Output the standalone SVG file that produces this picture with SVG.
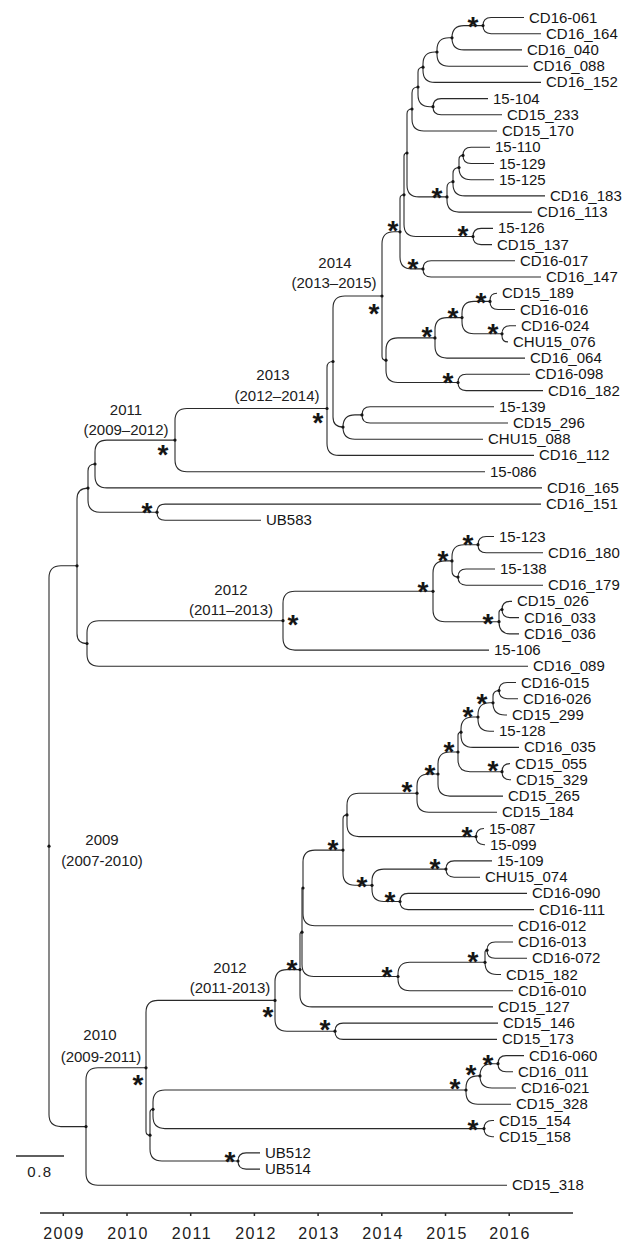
<svg xmlns="http://www.w3.org/2000/svg" width="623" height="1244" viewBox="0 0 623 1244">
<style>
.br{fill:none;stroke:#2a2a2a;stroke-width:1.1}
.lf{font-family:"Liberation Sans",Arial,sans-serif;font-size:15px;fill:#151515}
.yr{font-family:"Liberation Sans",Arial,sans-serif;font-size:15px;fill:#202020;text-anchor:middle}
.st{font-family:"Liberation Sans",Arial,sans-serif;font-size:28px;font-weight:bold;fill:#151515;text-anchor:middle}
.dt{fill:#151515}
.ax{font-family:"Liberation Sans",Arial,sans-serif;font-size:16px;fill:#202020;text-anchor:middle;letter-spacing:1.5px}
</style>
<rect width="623" height="1244" fill="#ffffff"/>
<g id="connectors" class="br">
<path d="M483,25.6Q483,17.5 491.1,17.5H524M483,25.6Q483,33.7 491.1,33.7H541"/>
<path d="M452,37.8V37.6Q452,25.6 464,25.6H483M452,37.8V37.9Q452,49.9 464,49.9H522"/>
<path d="M437,52V49.8Q437,37.8 449,37.8H452M437,52V54.2Q437,66.2 449,66.2H528"/>
<path d="M423,67.2V64Q423,52 435,52H437M423,67.2V70.4Q423,82.4 435,82.4H541"/>
<path d="M433,106.7Q433,98.6 441.1,98.6H488M433,106.7Q433,114.8 441.1,114.8H502"/>
<path d="M418,87V72.2Q418,67.2 423,67.2M418,87V94.7Q418,106.7 430,106.7H433"/>
<path d="M412,109V93Q412,87 418,87M412,109V119Q412,131 424,131H497"/>
<path d="M463,155.4Q463,147.3 471.1,147.3H490M463,155.4Q463,163.5 471.1,163.5H494"/>
<path d="M459,167.6V159.4Q459,155.4 463,155.4M459,167.6V167.7Q459,179.7 471,179.7H494"/>
<path d="M453,181.7V173.6Q453,167.6 459,167.6M453,181.7V183.9Q453,195.9 465,195.9H545"/>
<path d="M447,196.9V187.7Q447,181.7 453,181.7M447,196.9V200.1Q447,212.1 459,212.1H532"/>
<path d="M407,153V114Q407,109 412,109M407,153V184.9Q407,196.9 419,196.9H447"/>
<path d="M473,236.5Q473,228.4 481.1,228.4H493M473,236.5Q473,244.6 481.1,244.6H492"/>
<path d="M404,194.8V156Q404,153 407,153M404,194.8V224.5Q404,236.5 416,236.5H473"/>
<path d="M423,268.9Q423,260.8 431.1,260.8H515M423,268.9Q423,277 431.1,277H541"/>
<path d="M400,231.8V198.8Q400,194.8 404,194.8M400,231.8V256.9Q400,268.9 412,268.9H423"/>
<path d="M490,301.4V300.2Q490,293.2 497,293.2M490,301.4Q490,309.5 498.1,309.5H515"/>
<path d="M502,333.8Q502,325.7 510.1,325.7H516M502,333.8V335.9Q502,341.9 508,341.9"/>
<path d="M462,317.6V313.4Q462,301.4 474,301.4H490M462,317.6V321.8Q462,333.8 474,333.8H502"/>
<path d="M435,337.9V329.6Q435,317.6 447,317.6H462M435,337.9V346.1Q435,358.1 447,358.1H525"/>
<path d="M458,382.5Q458,374.3 466.2,374.3H530M458,382.5Q458,390.6 466.1,390.6H543"/>
<path d="M386,360.2V349.9Q386,337.9 398,337.9H435M386,360.2V370.5Q386,382.5 398,382.5H458"/>
<path d="M382,296V243.8Q382,231.8 394,231.8H400M382,296V356.2Q382,360.2 386,360.2"/>
<path d="M362,414.9Q362,406.8 370.1,406.8H494M362,414.9Q362,423 370.1,423H508"/>
<path d="M343,427.1V426.9Q343,414.9 355,414.9H362M343,427.1V427.2Q343,439.2 355,439.2H483"/>
<path d="M333,361.5V308Q333,296 345,296H382M333,361.5V417.1Q333,427.1 343,427.1"/>
<path d="M327,408.5V367.5Q327,361.5 333,361.5M327,408.5V443.4Q327,455.4 339,455.4H534"/>
<path d="M175,440.1V420.5Q175,408.5 187,408.5H327M175,440.1V459.7Q175,471.7 187,471.7H485"/>
<path d="M95,464V452.1Q95,440.1 107,440.1H175M95,464V475.9Q95,487.9 107,487.9H542"/>
<path d="M157,512.2Q157,504.1 165.1,504.1H541M157,512.2Q157,520.3 165.1,520.3H261"/>
<path d="M88,488.1V471Q88,464 95,464M88,488.1V500.2Q88,512.2 100,512.2H157"/>
<path d="M478,544.7Q478,536.5 486.2,536.5H494M478,544.7Q478,552.8 486.1,552.8H543"/>
<path d="M458,577.1Q458,569 466.1,569H495M458,577.1Q458,585.2 466.1,585.2H543"/>
<path d="M452,560.9V556.7Q452,544.7 464,544.7H478M452,560.9V571.1Q452,577.1 458,577.1"/>
<path d="M502,609.5Q502,601.4 510.1,601.4H512M502,609.5Q502,617.6 510.1,617.6H519"/>
<path d="M499,621.7V612.5Q499,609.5 502,609.5M499,621.7V621.9Q499,633.9 511,633.9H519"/>
<path d="M433,591.3V572.9Q433,560.9 445,560.9H452M433,591.3V609.7Q433,621.7 445,621.7H499"/>
<path d="M283,620.7V603.3Q283,591.3 295,591.3H433M283,620.7V638.1Q283,650.1 295,650.1H489"/>
<path d="M87,643.5V632.7Q87,620.7 99,620.7H283M87,643.5V654.3Q87,666.3 99,666.3H528"/>
<path d="M77,565.8V499.1Q77,488.1 88,488.1M77,565.8V633.5Q77,643.5 87,643.5"/>
<path d="M499,690.6Q499,682.5 507.1,682.5H516M499,690.6Q499,698.7 507.1,698.7H518"/>
<path d="M493,702.8V696.6Q493,690.6 499,690.6M493,702.8V703Q493,715 505,715H507"/>
<path d="M478,717V714.8Q478,702.8 490,702.8H493M478,717V719.2Q478,731.2 490,731.2H494"/>
<path d="M461,732.2V729Q461,717 473,717H478M461,732.2V735.4Q461,747.4 473,747.4H519"/>
<path d="M502,771.7V771.6Q502,763.6 510,763.6M502,771.7Q502,779.8 510.1,779.8H511"/>
<path d="M458,752V735.2Q458,732.2 461,732.2M458,752V759.7Q458,771.7 470,771.7H502"/>
<path d="M438,774V764Q438,752 450,752H458M438,774V784.1Q438,796.1 450,796.1H503"/>
<path d="M417,793.2V786Q417,774 429,774H438M417,793.2V800.3Q417,812.3 429,812.3H497"/>
<path d="M476,836.6Q476,828.5 484,828.5M476,836.6Q476,844.7 484.1,844.7H485"/>
<path d="M347,814.9V805.2Q347,793.2 359,793.2H417M347,814.9V824.6Q347,836.6 359,836.6H476"/>
<path d="M446,869.1Q446,860.9 454.2,860.9H492M446,869.1Q446,877.2 454.1,877.2H480"/>
<path d="M400,901.5Q400,893.4 408.1,893.4H527M400,901.5Q400,909.6 408.1,909.6H534"/>
<path d="M372,885.3V881.1Q372,869.1 384,869.1H446M372,885.3V889.5Q372,901.5 384,901.5H400"/>
<path d="M343,850.1V818.9Q343,814.9 347,814.9M343,850.1V873.3Q343,885.3 355,885.3H372"/>
<path d="M303,888V862.1Q303,850.1 315,850.1H343M303,888V913.8Q303,925.8 315,925.8H513"/>
<path d="M487,950.2Q487,942 495.2,942H513M487,950.2Q487,958.3 495.1,958.3H527"/>
<path d="M485,962.3V952.2Q485,950.2 487,950.2M485,962.3V962.5Q485,974.5 497,974.5H501"/>
<path d="M398,976.5V974.3Q398,962.3 410,962.3H485M398,976.5V978.7Q398,990.7 410,990.7H513"/>
<path d="M302,932.2V889Q302,888 303,888M302,932.2V964.5Q302,976.5 314,976.5H398"/>
<path d="M300,969.6V934.2Q300,932.2 302,932.2M300,969.6V994.9Q300,1006.9 312,1006.9H493"/>
<path d="M335,1031.2Q335,1023.1 343.1,1023.1H498M335,1031.2Q335,1039.4 343.2,1039.4H497"/>
<path d="M275,1000.4V981.6Q275,969.6 287,969.6H300M275,1000.4V1019.2Q275,1031.2 287,1031.2H335"/>
<path d="M498,1063.7Q498,1055.6 506.1,1055.6H524M498,1063.7Q498,1071.8 506.1,1071.8H513"/>
<path d="M480,1075.9V1075.7Q480,1063.7 492,1063.7H498M480,1075.9V1076Q480,1088 492,1088H516"/>
<path d="M466,1090V1087.9Q466,1075.9 478,1075.9H480M466,1090V1092.2Q466,1104.2 478,1104.2H511"/>
<path d="M484,1128.6Q484,1120.5 492.1,1120.5H494M484,1128.6Q484,1136.7 492.1,1136.7H494"/>
<path d="M153,1109.3V1102Q153,1090 165,1090H466M153,1109.3V1116.6Q153,1128.6 165,1128.6H484"/>
<path d="M238,1161Q238,1152.9 246.1,1152.9H260M238,1161Q238,1169.1 246.1,1169.1H260"/>
<path d="M150,1135.2V1112.3Q150,1109.3 153,1109.3M150,1135.2V1149Q150,1161 162,1161H238"/>
<path d="M146,1067.8V1012.4Q146,1000.4 158,1000.4H275M146,1067.8V1131.2Q146,1135.2 150,1135.2"/>
<path d="M86,1126.6V1079.8Q86,1067.8 98,1067.8H146M86,1126.6V1173.3Q86,1185.3 98,1185.3H507"/>
<path d="M49,846.2V577.8Q49,565.8 61,565.8H77M49,846.2V1114.6Q49,1126.6 61,1126.6H86"/>
</g>
<g id="internal-nodes" class="dt">
<g id="n-a1"><circle cx="483" cy="25.6" r="1.6"/><text class="st" x="473" y="36">*</text></g>
<g id="n-a2"><circle cx="452" cy="37.8" r="1.6"/></g>
<g id="n-a3"><circle cx="437" cy="52" r="1.6"/></g>
<g id="n-a4"><circle cx="423" cy="67.2" r="1.6"/></g>
<g id="n-a5"><circle cx="418" cy="87" r="1.6"/></g>
<g id="n-a6"><circle cx="433" cy="106.7" r="1.6"/></g>
<g id="n-a7"><circle cx="412" cy="109" r="1.6"/></g>
<g id="n-a8"><circle cx="407" cy="153" r="1.6"/></g>
<g id="n-b1"><circle cx="463" cy="155.4" r="1.6"/></g>
<g id="n-b2"><circle cx="459" cy="167.6" r="1.6"/></g>
<g id="n-b3"><circle cx="453" cy="181.7" r="1.6"/></g>
<g id="n-b4"><circle cx="447" cy="196.9" r="1.6"/><text class="st" x="437" y="207">*</text></g>
<g id="n-c1"><circle cx="473" cy="236.5" r="1.6"/><text class="st" x="463" y="245">*</text></g>
<g id="n-c2"><circle cx="404" cy="194.8" r="1.6"/></g>
<g id="n-x2"><circle cx="423" cy="268.9" r="1.6"/><text class="st" x="413" y="278">*</text></g>
<g id="n-v"><circle cx="400" cy="231.8" r="1.6"/><text class="st" x="393" y="240">*</text></g>
<g id="n-w1a1"><circle cx="490" cy="301.4" r="1.6"/><text class="st" x="481" y="312">*</text></g>
<g id="n-w1a2"><circle cx="502" cy="333.8" r="1.6"/><text class="st" x="493" y="343">*</text></g>
<g id="n-w1a"><circle cx="462" cy="317.6" r="1.6"/><text class="st" x="453" y="327">*</text></g>
<g id="n-w1"><circle cx="435" cy="337.9" r="1.6"/><text class="st" x="427" y="346">*</text></g>
<g id="n-w2"><circle cx="458" cy="382.5" r="1.6"/><text class="st" x="448" y="392">*</text></g>
<g id="n-w"><circle cx="386" cy="360.2" r="1.6"/></g>
<g id="n-2014"><circle cx="382" cy="296" r="1.6"/><text class="st" x="374" y="323">*</text><text class="yr" x="335" y="268.4">2014</text><text class="yr" x="334" y="288.4">(2013–2015)</text></g>
<g id="n-t1"><circle cx="362" cy="414.9" r="1.6"/></g>
<g id="n-t2"><circle cx="343" cy="427.1" r="1.6"/></g>
<g id="n-u"><circle cx="333" cy="361.5" r="1.6"/></g>
<g id="n-2013"><circle cx="327" cy="408.5" r="1.6"/><text class="st" x="318" y="432">*</text><text class="yr" x="273" y="380.4">2013</text><text class="yr" x="277" y="401.4">(2012–2014)</text></g>
<g id="n-2011"><circle cx="175" cy="440.1" r="1.6"/><text class="st" x="163" y="464">*</text><text class="yr" x="126" y="415.4">2011</text><text class="yr" x="126" y="435.4">(2009–2012)</text></g>
<g id="n-p1"><circle cx="95" cy="464" r="1.6"/></g>
<g id="n-ub583"><circle cx="157" cy="512.2" r="1.6"/><text class="st" x="147" y="522">*</text></g>
<g id="n-b"><circle cx="88" cy="488.1" r="1.6"/></g>
<g id="n-r1"><circle cx="478" cy="544.7" r="1.6"/><text class="st" x="468" y="554">*</text></g>
<g id="n-r2"><circle cx="458" cy="577.1" r="1.6"/></g>
<g id="n-r"><circle cx="452" cy="560.9" r="1.6"/><text class="st" x="443" y="570">*</text></g>
<g id="n-s1"><circle cx="502" cy="609.5" r="1.6"/></g>
<g id="n-s"><circle cx="499" cy="621.7" r="1.6"/><text class="st" x="488" y="633">*</text></g>
<g id="n-q"><circle cx="433" cy="591.3" r="1.6"/><text class="st" x="423" y="601">*</text></g>
<g id="n-2012a"><circle cx="283" cy="620.7" r="1.6"/><text class="st" x="293" y="634">*</text><text class="yr" x="231" y="595.4">2012</text><text class="yr" x="231" y="615.4">(2011–2013)</text></g>
<g id="n-c"><circle cx="87" cy="643.5" r="1.6"/></g>
<g id="n-a"><circle cx="77" cy="565.8" r="1.6"/></g>
<g id="n-m1g"><circle cx="499" cy="690.6" r="1.6"/></g>
<g id="n-m1f"><circle cx="493" cy="702.8" r="1.6"/><text class="st" x="482" y="713">*</text></g>
<g id="n-m1e"><circle cx="478" cy="717" r="1.6"/><text class="st" x="468" y="726">*</text></g>
<g id="n-m1c"><circle cx="461" cy="732.2" r="1.6"/></g>
<g id="n-m1d"><circle cx="502" cy="771.7" r="1.6"/><text class="st" x="493" y="780">*</text></g>
<g id="n-m1b"><circle cx="458" cy="752" r="1.6"/><text class="st" x="449" y="761">*</text></g>
<g id="n-m1a"><circle cx="438" cy="774" r="1.6"/><text class="st" x="430" y="784">*</text></g>
<g id="n-m1"><circle cx="417" cy="793.2" r="1.6"/><text class="st" x="407" y="801">*</text></g>
<g id="n-m2"><circle cx="476" cy="836.6" r="1.6"/><text class="st" x="467" y="846">*</text></g>
<g id="n-m"><circle cx="347" cy="814.9" r="1.6"/></g>
<g id="n-l1"><circle cx="446" cy="869.1" r="1.6"/><text class="st" x="435" y="878">*</text></g>
<g id="n-l2"><circle cx="400" cy="901.5" r="1.6"/><text class="st" x="390" y="911">*</text></g>
<g id="n-l"><circle cx="372" cy="885.3" r="1.6"/><text class="st" x="362" y="896">*</text></g>
<g id="n-j"><circle cx="343" cy="850.1" r="1.6"/><text class="st" x="333" y="859">*</text></g>
<g id="n-g3"><circle cx="303" cy="888" r="1.6"/></g>
<g id="n-k1a"><circle cx="487" cy="950.2" r="1.6"/></g>
<g id="n-k1"><circle cx="485" cy="962.3" r="1.6"/><text class="st" x="473" y="971">*</text></g>
<g id="n-k"><circle cx="398" cy="976.5" r="1.6"/><text class="st" x="387" y="986">*</text></g>
<g id="n-g2"><circle cx="302" cy="932.2" r="1.6"/></g>
<g id="n-g"><circle cx="300" cy="969.6" r="1.6"/><text class="st" x="292" y="979">*</text></g>
<g id="n-h"><circle cx="335" cy="1031.2" r="1.6"/><text class="st" x="325" y="1039">*</text></g>
<g id="n-2012b"><circle cx="275" cy="1000.4" r="1.6"/><text class="st" x="268" y="1026">*</text><text class="yr" x="230" y="973.4">2012</text><text class="yr" x="230" y="993.4">(2011-2013)</text></g>
<g id="n-n1"><circle cx="498" cy="1063.7" r="1.6"/><text class="st" x="488" y="1074">*</text></g>
<g id="n-n2"><circle cx="480" cy="1075.9" r="1.6"/><text class="st" x="471" y="1084">*</text></g>
<g id="n-n3"><circle cx="466" cy="1090" r="1.6"/><text class="st" x="455" y="1098">*</text></g>
<g id="n-n4"><circle cx="484" cy="1128.6" r="1.6"/><text class="st" x="473" y="1139">*</text></g>
<g id="n-e3"><circle cx="153" cy="1109.3" r="1.6"/></g>
<g id="n-ubb"><circle cx="238" cy="1161" r="1.6"/><text class="st" x="230" y="1171">*</text></g>
<g id="n-e2"><circle cx="150" cy="1135.2" r="1.6"/></g>
<g id="n-2010"><circle cx="146" cy="1067.8" r="1.6"/><text class="st" x="138" y="1094">*</text><text class="yr" x="100" y="1040.4">2010</text><text class="yr" x="101" y="1062.4">(2009-2011)</text></g>
<g id="n-d"><circle cx="86" cy="1126.6" r="1.6"/></g>
<g id="n-root"><circle cx="49" cy="846.2" r="1.6"/><text class="yr" x="102" y="845.4">2009</text><text class="yr" x="102" y="866.4">(2007-2010)</text></g>
</g>
<g id="leaves" class="lf">
<g id="leaf-0"><text x="529" y="22.5">CD16-061</text></g>
<g id="leaf-1"><text x="546" y="38.7">CD16_164</text></g>
<g id="leaf-2"><text x="527" y="54.9">CD16_040</text></g>
<g id="leaf-3"><text x="533" y="71.2">CD16_088</text></g>
<g id="leaf-4"><text x="546" y="87.4">CD16_152</text></g>
<g id="leaf-5"><text x="493" y="103.6">15-104</text></g>
<g id="leaf-6"><text x="507" y="119.8">CD15_233</text></g>
<g id="leaf-7"><text x="502" y="136">CD15_170</text></g>
<g id="leaf-8"><text x="495" y="152.3">15-110</text></g>
<g id="leaf-9"><text x="499" y="168.5">15-129</text></g>
<g id="leaf-10"><text x="499" y="184.7">15-125</text></g>
<g id="leaf-11"><text x="550" y="200.9">CD16_183</text></g>
<g id="leaf-12"><text x="537" y="217.1">CD16_113</text></g>
<g id="leaf-13"><text x="498" y="233.4">15-126</text></g>
<g id="leaf-14"><text x="497" y="249.6">CD15_137</text></g>
<g id="leaf-15"><text x="520" y="265.8">CD16-017</text></g>
<g id="leaf-16"><text x="546" y="282">CD16_147</text></g>
<g id="leaf-17"><text x="502" y="298.2">CD15_189</text></g>
<g id="leaf-18"><text x="520" y="314.5">CD16-016</text></g>
<g id="leaf-19"><text x="521" y="330.7">CD16-024</text></g>
<g id="leaf-20"><text x="513" y="346.9">CHU15_076</text></g>
<g id="leaf-21"><text x="530" y="363.1">CD16_064</text></g>
<g id="leaf-22"><text x="535" y="379.3">CD16-098</text></g>
<g id="leaf-23"><text x="548" y="395.6">CD16_182</text></g>
<g id="leaf-24"><text x="499" y="411.8">15-139</text></g>
<g id="leaf-25"><text x="513" y="428">CD15_296</text></g>
<g id="leaf-26"><text x="488" y="444.2">CHU15_088</text></g>
<g id="leaf-27"><text x="539" y="460.4">CD16_112</text></g>
<g id="leaf-28"><text x="490" y="476.7">15-086</text></g>
<g id="leaf-29"><text x="547" y="492.9">CD16_165</text></g>
<g id="leaf-30"><text x="546" y="509.1">CD16_151</text></g>
<g id="leaf-31"><text x="266" y="525.3">UB583</text></g>
<g id="leaf-32"><text x="499" y="541.5">15-123</text></g>
<g id="leaf-33"><text x="548" y="557.8">CD16_180</text></g>
<g id="leaf-34"><text x="500" y="574">15-138</text></g>
<g id="leaf-35"><text x="548" y="590.2">CD16_179</text></g>
<g id="leaf-36"><text x="517" y="606.4">CD15_026</text></g>
<g id="leaf-37"><text x="524" y="622.6">CD16_033</text></g>
<g id="leaf-38"><text x="524" y="638.9">CD16_036</text></g>
<g id="leaf-39"><text x="494" y="655.1">15-106</text></g>
<g id="leaf-40"><text x="533" y="671.3">CD16_089</text></g>
<g id="leaf-41"><text x="521" y="687.5">CD16-015</text></g>
<g id="leaf-42"><text x="523" y="703.7">CD16-026</text></g>
<g id="leaf-43"><text x="512" y="720">CD15_299</text></g>
<g id="leaf-44"><text x="499" y="736.2">15-128</text></g>
<g id="leaf-45"><text x="524" y="752.4">CD16_035</text></g>
<g id="leaf-46"><text x="515" y="768.6">CD15_055</text></g>
<g id="leaf-47"><text x="516" y="784.8">CD15_329</text></g>
<g id="leaf-48"><text x="508" y="801.1">CD15_265</text></g>
<g id="leaf-49"><text x="502" y="817.3">CD15_184</text></g>
<g id="leaf-50"><text x="489" y="833.5">15-087</text></g>
<g id="leaf-51"><text x="490" y="849.7">15-099</text></g>
<g id="leaf-52"><text x="497" y="865.9">15-109</text></g>
<g id="leaf-53"><text x="485" y="882.2">CHU15_074</text></g>
<g id="leaf-54"><text x="532" y="898.4">CD16-090</text></g>
<g id="leaf-55"><text x="539" y="914.6">CD16-111</text></g>
<g id="leaf-56"><text x="518" y="930.8">CD16-012</text></g>
<g id="leaf-57"><text x="518" y="947">CD16-013</text></g>
<g id="leaf-58"><text x="532" y="963.3">CD16-072</text></g>
<g id="leaf-59"><text x="506" y="979.5">CD15_182</text></g>
<g id="leaf-60"><text x="518" y="995.7">CD16-010</text></g>
<g id="leaf-61"><text x="498" y="1011.9">CD15_127</text></g>
<g id="leaf-62"><text x="503" y="1028.1">CD15_146</text></g>
<g id="leaf-63"><text x="502" y="1044.4">CD15_173</text></g>
<g id="leaf-64"><text x="529" y="1060.6">CD16-060</text></g>
<g id="leaf-65"><text x="518" y="1076.8">CD16_011</text></g>
<g id="leaf-66"><text x="521" y="1093">CD16-021</text></g>
<g id="leaf-67"><text x="516" y="1109.2">CD15_328</text></g>
<g id="leaf-68"><text x="499" y="1125.5">CD15_154</text></g>
<g id="leaf-69"><text x="499" y="1141.7">CD15_158</text></g>
<g id="leaf-70"><text x="265" y="1157.9">UB512</text></g>
<g id="leaf-71"><text x="265" y="1174.1">UB514</text></g>
<g id="leaf-72"><text x="512" y="1190.3">CD15_318</text></g>
</g>
<g id="scale-bar">
<line x1="16" y1="1156" x2="64" y2="1156" stroke="#2a2a2a" stroke-width="1.4"/>
<text class="ax" x="40" y="1177" style="font-size:15px">0.8</text>
</g>
<g id="time-axis">
<line x1="40" y1="1213" x2="573" y2="1213" stroke="#2a2a2a" stroke-width="1.5"/>
<path d="M63.3,1213v3M127,1213v3M190.7,1213v3M254.4,1213v3M318.1,1213v3M381.8,1213v3M445.5,1213v3M509.2,1213v3" stroke="#2a2a2a" stroke-width="1.5"/>
<text class="ax" x="64" y="1239">2009</text>
<text class="ax" x="128" y="1239">2010</text>
<text class="ax" x="192" y="1239">2011</text>
<text class="ax" x="256" y="1239">2012</text>
<text class="ax" x="319" y="1239">2013</text>
<text class="ax" x="383" y="1239">2014</text>
<text class="ax" x="447" y="1239">2015</text>
<text class="ax" x="510" y="1239">2016</text>
</g>
</svg>
